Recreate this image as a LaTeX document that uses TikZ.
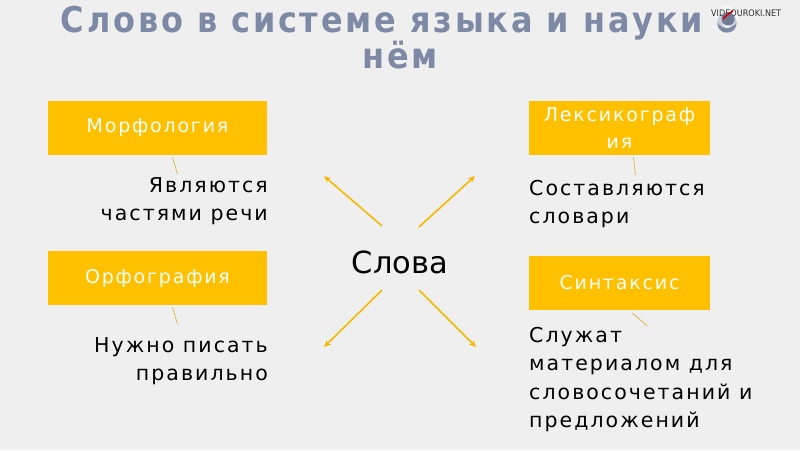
\documentclass[tikz,border=0pt]{standalone}
\usetikzlibrary{arrows.meta}
\usepackage{fontspec}
\setmainfont{DejaVu Sans}
\newfontfamily\titlefont[LetterSpace=8]{DejaVu Sans Condensed}
\newfontfamily\boxfont[LetterSpace=9.5]{DejaVu Sans}
\newfontfamily\bodyfont[LetterSpace=10]{DejaVu Sans}
\newfontfamily\logofont{DejaVu Sans Condensed}
\definecolor{boxyellow}{HTML}{FFC000}
\definecolor{arrowyellow}{HTML}{F5BA00}
\definecolor{titlegray}{HTML}{7E89A5}
\definecolor{bg}{HTML}{EFEFEF}
\begin{document}
\begin{tikzpicture}[x=1pt,y=-1pt,
  catbox/.style={fill=boxyellow, text=white, minimum width=219pt, minimum height=54pt, inner sep=0pt, font=\boxfont\fontsize{19}{27}\selectfont, align=center},
  body/.style={inner sep=0pt, font=\bodyfont\fontsize{20.5}{28.5}\selectfont, text=black},
  tick/.style={draw=boxyellow!85!black, line width=0.5pt},
  arr/.style={draw=arrowyellow, line width=1.6pt, -{Stealth[length=7pt,width=6pt]}}
]
\useasboundingbox (0,0) rectangle (800,450);
\fill[bg] (0,0) rectangle (800,450);
% title
\node[text=titlegray, font=\titlefont\bfseries\fontsize{35.5}{35}\selectfont, align=center] (title) at (400,38) {Слово в системе языка и науки о\\нём};
% logo
\fill[white, opacity=0.6] (727,17) circle (11);
\node[font=\logofont\fontsize{9}{10}\selectfont, text=black!80, anchor=west, inner sep=0pt] (logo) at (711,13) {VIDEOUROKI.NET};
\fill[titlegray!90!black] (728,19) circle (6.5);
\draw[red!80!black, line width=1.5pt] (723,19) -- (727,15) -- (733,11);
% boxes
\node[catbox] (morf) at (157.5,128) {Морфология};
\node[catbox] (orf) at (157.5,278) {Орфография};
\node[catbox, minimum width=181pt] (lex) at (619.5,128) {Лексикограф\\ия};
\node[catbox, minimum width=181pt] (syn) at (619.5,283) {Синтаксис};
% body texts
\node[body, align=right, anchor=north east] (tmorf) at (268,177) {Являются\\частями речи};
\node[body, align=right, anchor=north east] (torf) at (268,337) {Нужно писать\\правильно};
\node[body, align=left, anchor=north west] (tlex) at (529,180) {Составляются\\словари};
\node[body, align=left, anchor=north west] (tsyn) at (529,327) {Служат\\материалом для\\словосочетаний и\\предложений};
% ticks
\draw[tick] (morf.south) ++(15,2) -- ++(5,17);
\draw[tick] (orf.south) ++(15,2) -- ++(5,17);
\draw[tick] (lex.south) ++(14,2) -- ++(2,18);
\draw[tick] (syn.south) ++(13,3) -- ++(15,13);
% center
\node[inner sep=2pt, font=\fontsize{30.5}{34}\selectfont] (slova) at (400,262) {Слова};
\coordinate (sul) at (382,226);
\coordinate (sur) at (419,227);
\coordinate (sll) at (382,290);
\coordinate (slr) at (419,290);
\coordinate (aul) at (324,176);
\coordinate (aur) at (475,176);
\coordinate (all) at (324,347);
\coordinate (alr) at (476,347);
\draw[arr] (sul) -- (aul);
\draw[arr] (sur) -- (aur);
\draw[arr] (sll) -- (all);
\draw[arr] (slr) -- (alr);
\end{tikzpicture}
\end{document}
